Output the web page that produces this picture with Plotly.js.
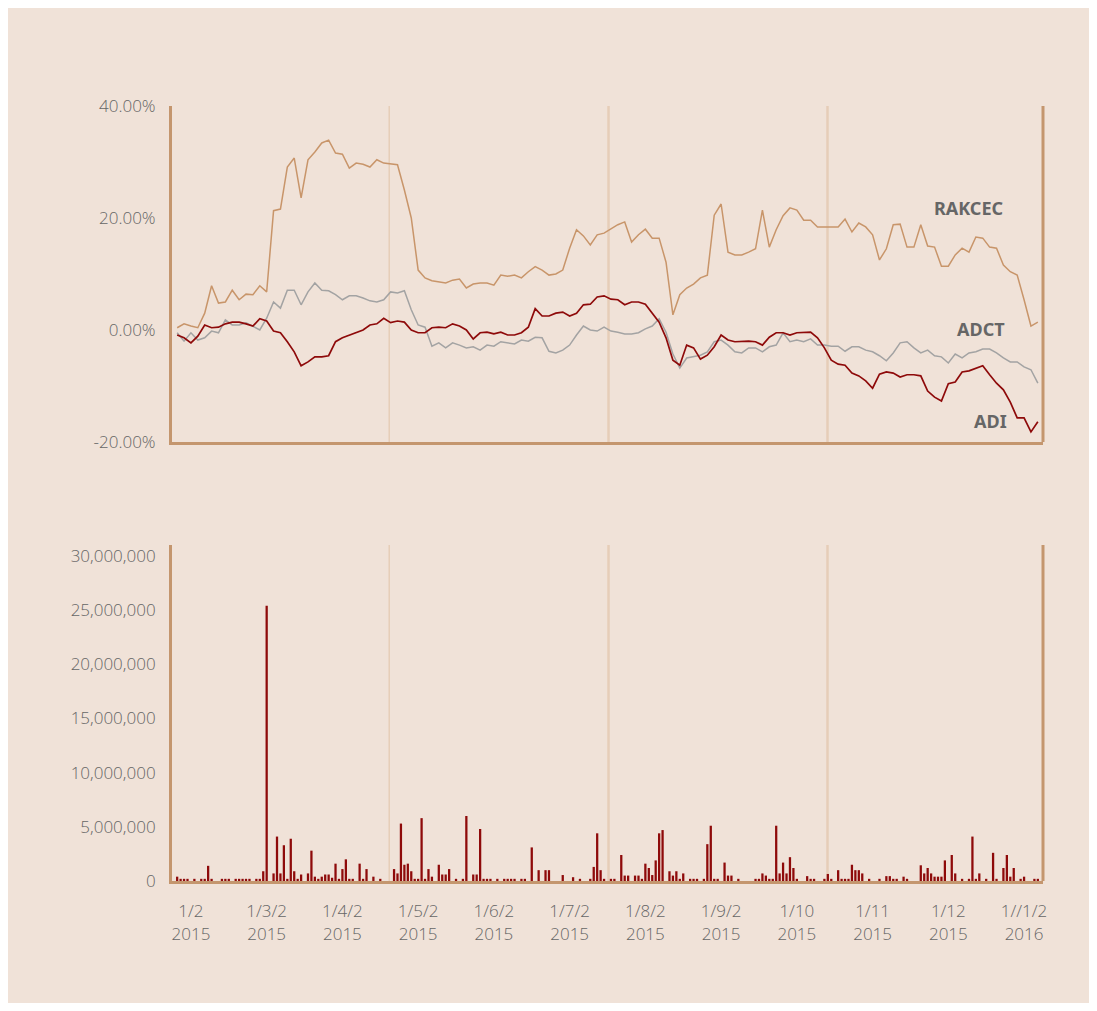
<!DOCTYPE html>
<html>
<head>
<meta charset="utf-8">
<script src="https://cdn.plot.ly/plotly-3.0.1.min.js"></script>
<style>
  html, body { margin: 0; padding: 0; background: #ffffff; }
  #chart { position: absolute; left: 8px; top: 8px; width: 1081px; height: 995px; }
</style>
</head>
<body>
<div id="chart"></div>
<script>
// ---- Data ----
// trading-day index (category position) of each line sample
const lineDays = [1,3,5,7,9,11,13,15,17,19,21,23,25,27,29,31,33,35,37,39,41,43,45,47,49,51,53,55,57,59,
  61,63,65,67,69,71,73,75,77,79,81,83,85,87,89,91,93,95,97,99,101,103,105,107,109,111,113,115,117,119,
  121,123,125,127,129,131,133,135,137,139,141,143,145,147,149,151,153,155,157,159,161,163,165,167,169,171,173,175,177,179,
  181,183,185,187,189,191,193,195,197,199,201,203,205,207,209,211,213,215,217,219,221,223,225,227,229,231,233,235,237,239,
  241,243,245,247,249,251];

// cumulative return, %
const rakcec = [0.4, 1.1, 0.7, 0.4, 3.0, 7.9, 4.8, 5.0, 7.1, 5.4,
  6.4, 6.3, 7.9, 6.8, 21.3, 21.6, 29.1, 30.7, 23.6, 30.4,
  31.8, 33.4, 33.9, 31.6, 31.4, 28.9, 29.8, 29.6, 29.1, 30.4,
  29.8, 29.6, 29.5, 25.0, 20.0, 10.7, 9.3, 8.8, 8.6, 8.4,
  8.9, 9.1, 7.5, 8.2, 8.4, 8.4, 8.0, 9.8, 9.6, 9.8,
  9.3, 10.4, 11.3, 10.7, 9.8, 10.0, 10.7, 14.6, 17.9, 16.8,
  15.2, 17.0, 17.3, 18.0, 18.8, 19.3, 15.7, 17.0, 18.0, 16.4,
  16.4, 12.1, 2.7, 6.3, 7.5, 8.2, 9.3, 9.8, 20.5, 22.5,
  13.9, 13.4, 13.4, 13.9, 14.5, 21.4, 14.8, 17.9, 20.4, 21.8,
  21.4, 19.6, 19.6, 18.4, 18.4, 18.4, 18.4, 19.8, 17.5, 19.1,
  18.4, 17.0, 12.5, 14.5, 18.8, 18.9, 14.8, 14.8, 18.8, 15.0,
  14.8, 11.4, 11.4, 13.4, 14.6, 13.9, 16.6, 16.4, 14.8, 14.6,
  11.6, 10.4, 9.8, 5.4, 0.7, 1.4];

const adct = [-0.5, -2.0, -0.5, -1.8, -1.4, -0.2, -0.5, 1.8, 0.9, 0.9,
  1.3, 0.7, 0.0, 2.1, 5.0, 3.9, 7.1, 7.1, 4.5, 6.8,
  8.4, 7.1, 7.0, 6.3, 5.4, 6.1, 6.1, 5.7, 5.2, 5.0,
  5.4, 6.8, 6.6, 7.0, 3.6, 0.9, 0.5, -2.9, -2.3, -3.2,
  -2.3, -2.7, -3.2, -3.0, -3.6, -2.7, -2.9, -2.1, -2.3, -2.5,
  -1.8, -2.0, -1.3, -1.4, -3.8, -4.1, -3.6, -2.7, -0.9, 0.7,
  0.0, -0.2, 0.5, -0.2, -0.4, -0.7, -0.7, -0.5, 0.2, 0.7,
  2.0, -0.4, -4.3, -6.8, -5.0, -4.8, -4.5, -3.9, -2.1, -1.8,
  -2.7, -3.9, -4.1, -3.2, -3.2, -3.9, -3.0, -2.7, -0.5, -2.1,
  -1.8, -2.1, -1.6, -2.7, -2.7, -2.9, -2.9, -3.8, -3.0, -3.0,
  -3.6, -3.9, -4.6, -5.5, -4.1, -2.3, -2.1, -3.2, -4.1, -3.6,
  -4.6, -4.8, -5.9, -4.3, -5.0, -4.1, -3.9, -3.4, -3.4, -4.1,
  -5.0, -5.7, -5.7, -6.6, -7.1, -9.5];

const adi = [-0.9, -1.4, -2.3, -1.1, 0.9, 0.4, 0.5, 1.1, 1.4, 1.4,
  1.1, 0.7, 2.0, 1.6, -0.2, -0.5, -2.1, -3.9, -6.4, -5.7,
  -4.8, -4.8, -4.6, -2.1, -1.4, -0.9, -0.5, 0.0, 0.9, 1.1,
  2.1, 1.3, 1.6, 1.4, 0.0, -0.5, -0.5, 0.4, 0.5, 0.4,
  1.1, 0.7, 0.0, -1.6, -0.5, -0.4, -0.7, -0.4, -0.9, -0.9,
  -0.5, 0.5, 3.8, 2.5, 2.5, 3.0, 3.2, 2.5, 3.0, 4.5,
  4.6, 5.9, 6.1, 5.5, 5.4, 4.5, 5.0, 5.0, 4.6, 2.9,
  1.4, -1.4, -5.4, -6.3, -2.7, -3.2, -5.2, -4.5, -3.0, -0.9,
  -1.8, -2.1, -2.0, -2.0, -2.1, -2.7, -1.3, -0.5, -0.5, -0.9,
  -0.5, -0.5, -0.4, -1.4, -3.2, -5.4, -6.1, -6.3, -7.7, -8.2,
  -9.1, -10.4, -7.9, -7.5, -7.7, -8.4, -8.0, -8.0, -8.2, -10.9,
  -12.0, -12.7, -9.6, -9.3, -7.5, -7.3, -6.8, -6.4, -8.0, -9.5,
  -10.7, -12.9, -15.7, -15.7, -18.2, -16.4];

// traded volume (millions of shares) on the days where a bar is visible
const volDays = [1,2,3,4,6,8,9,10,11,14,
  15,16,18,19,20,21,22,24,25,26,
  27,29,30,31,32,33,34,35,36,37,
  39,40,41,42,43,44,45,46,47,48,
  49,50,51,52,54,55,56,58,60,64,
  65,66,67,68,69,70,71,72,73,74,
  75,77,78,79,80,82,84,85,87,88,
  89,90,91,92,94,96,97,98,99,101,
  102,104,106,108,109,113,116,118,121,122,
  123,124,125,127,128,130,131,132,134,135,
  136,137,138,139,140,141,142,144,145,146,
  147,148,150,151,152,154,155,156,157,158,
  160,161,162,164,169,170,171,172,173,174,
  175,176,177,178,179,180,181,184,185,186,
  189,190,191,193,194,195,196,197,198,199,
  200,202,205,207,208,209,210,212,213,217,
  218,219,220,221,222,223,224,226,227,229,
  231,232,233,234,236,238,239,241,242,243,
  244,246,247,250,251];
const volMillions = [0.4,0.2,0.2,0.2,0.2,0.2,0.2,1.4,0.2,0.2,
  0.2,0.2,0.2,0.2,0.2,0.2,0.2,0.2,0.2,0.9,
  25.4,0.7,4.1,0.7,3.3,0.2,3.9,0.9,0.2,0.6,
  0.7,2.8,0.4,0.2,0.4,0.6,0.6,0.3,1.6,0.2,
  1.1,2.0,0.2,0.2,1.6,0.2,1.1,0.4,0.2,1.1,
  0.7,5.3,1.5,1.6,0.9,0.2,0.2,5.8,0.2,1.1,
  0.4,1.5,0.6,0.6,1.1,0.2,0.2,6.0,0.6,0.6,
  4.8,0.2,0.2,0.2,0.2,0.2,0.2,0.2,0.2,0.2,
  0.2,3.1,1.0,1.0,1.0,0.55,0.35,0.2,0.2,1.3,
  4.4,1.0,0.2,0.2,0.2,2.4,0.5,0.5,0.5,0.5,
  0.2,1.6,1.2,0.55,1.9,4.4,4.7,0.9,0.5,0.9,
  0.2,0.7,0.2,0.2,0.2,0.2,3.4,5.1,0.2,0.2,
  1.7,0.5,0.5,0.2,0.2,0.2,0.7,0.5,0.2,0.2,
  5.1,0.7,1.7,0.7,2.2,1.2,0.2,0.45,0.2,0.2,
  0.2,0.65,0.2,1.0,0.2,0.2,0.2,1.5,1.0,1.0,
  0.7,0.2,0.2,0.45,0.45,0.2,0.2,0.4,0.2,1.45,
  0.7,1.2,0.7,0.4,0.4,0.4,1.9,2.4,0.7,0.2,
  0.2,4.1,0.2,0.7,0.2,2.6,0.2,1.2,2.4,0.4,
  1.2,0.2,0.4,0.2,0.2];

// axis ticks
const xTickDays = [5,27,49,71,93,115,137,159,181,203,225,247];
const xTickText = ['1/2<br>2015','1/3/2<br>2015','1/4/2<br>2015','1/5/2<br>2015','1/6/2<br>2015','1/7/2<br>2015',
  '1/8/2<br>2015','1/9/2<br>2015','1/10<br>2015','1/11<br>2015','1/12<br>2015','1//1/2<br>2016'];
const quarterDays = [62.6, 126.3, 189.9];
const pctTicks = [-20, 0, 20, 40];
const pctTickText = ['-20.00%', '0.00%', '20.00%', '40.00%'];
const volTicks = [0, 5e6, 10e6, 15e6, 20e6, 25e6, 30e6];
const volTickText = ['0', '5,000,000', '10,000,000', '15,000,000', '20,000,000', '25,000,000', '30,000,000'];

// series labels (name, day, value)
const seriesNames = ['RAKCEC', 'ADCT', 'ADI'];
const labelDays = [231, 234.5, 237.2];
const labelValues = [21.8, 0.2, -16.2];

// ---- Styling ----
const BG = '#F0E2D8';
const AXIS = '#C4966E';
const GRID = '#E6CDB8';
const TICK = '#666666';
const FONT = 'Open Sans, Noto Sans, DejaVu Sans, sans-serif';
const tickFont = { family: FONT, size: 17, color: TICK, weight: 300 };
const colors = { RAKCEC: '#C8956A', ADCT: '#A3A3A3', ADI: '#8E0A0A' };

const traces = [
  { x: lineDays, y: rakcec, type: 'scatter', mode: 'lines', name: 'RAKCEC',
    line: { color: colors.RAKCEC, width: 1.5 }, xaxis: 'x', yaxis: 'y', cliponaxis: false },
  { x: lineDays, y: adct, type: 'scatter', mode: 'lines', name: 'ADCT',
    line: { color: colors.ADCT, width: 1.5 }, xaxis: 'x', yaxis: 'y', cliponaxis: false },
  { x: lineDays, y: adi, type: 'scatter', mode: 'lines', name: 'ADI',
    line: { color: colors.ADI, width: 1.7 }, xaxis: 'x', yaxis: 'y', cliponaxis: false },
  { x: volDays, y: volMillions.map(v => v * 1e6), type: 'bar', name: 'Volume',
    marker: { color: '#8E0A0A', line: { width: 0 } }, width: 0.66, xaxis: 'x2', yaxis: 'y2' }
];

const shapes = [];
quarterDays.forEach((d, i) => {
  const w = i === 0 ? 1.5 : 2.5;
  shapes.push({ type: 'line', xref: 'x', yref: 'y domain', x0: d, x1: d, y0: 0, y1: 1,
    line: { color: GRID, width: w }, layer: 'below' });
  shapes.push({ type: 'line', xref: 'x2', yref: 'y2 domain', x0: d, x1: d, y0: 0, y1: 1,
    line: { color: GRID, width: w }, layer: 'below' });
});
// right-hand frame lines
shapes.push({ type: 'line', xref: 'x domain', yref: 'y domain', x0: 1, x1: 1, y0: 0, y1: 1,
  line: { color: AXIS, width: 3 } });
shapes.push({ type: 'line', xref: 'x2 domain', yref: 'y2 domain', x0: 1, x1: 1, y0: 0, y1: 1,
  line: { color: AXIS, width: 3 } });

const annotations = seriesNames.map((n, i) => ({
  x: labelDays[i], y: labelValues[i], xref: 'x', yref: 'y', text: '<b>' + n + '</b>',
  showarrow: false, font: { family: 'Noto Sans, DejaVu Sans, sans-serif', size: 18, color: '#666666' }
}));

const xCommon = {
  range: [-0.5, 252.5], showgrid: false, zeroline: false,
  showline: true, linecolor: AXIS, linewidth: 3, fixedrange: true
};

const layout = {
  width: 1081, height: 995,
  paper_bgcolor: BG, plot_bgcolor: BG,
  margin: { l: 164, r: 46, t: 98, b: 122 },
  showlegend: false,
  font: { family: FONT, color: TICK, size: 16 },
  xaxis: Object.assign({}, xCommon, { anchor: 'y', showticklabels: false, ticks: '' }),
  yaxis: {
    domain: [0.5665, 1], range: [-20, 40], anchor: 'x',
    tickmode: 'array', tickvals: pctTicks, ticktext: pctTickText,
    showgrid: false, zeroline: false, showline: true, linecolor: AXIS, linewidth: 3,
    ticks: 'outside', ticklen: 10, tickcolor: 'rgba(0,0,0,0)',
    tickfont: tickFont
  },
  xaxis2: Object.assign({}, xCommon, {
    anchor: 'y2', tickmode: 'array', tickvals: xTickDays, ticktext: xTickText,
    ticks: 'outside', ticklen: 13, tickcolor: 'rgba(0,0,0,0)',
    tickfont: tickFont
  }),
  yaxis2: {
    domain: [0, 0.4335], range: [0, 31e6], anchor: 'x2',
    tickmode: 'array', tickvals: volTicks, ticktext: volTickText,
    showgrid: false, zeroline: false, showline: true, linecolor: AXIS, linewidth: 3,
    ticks: 'outside', ticklen: 10, tickcolor: 'rgba(0,0,0,0)',
    tickfont: tickFont
  },
  shapes: shapes,
  annotations: annotations
};

Plotly.newPlot('chart', traces, layout, { displayModeBar: false, staticPlot: true });
</script>
</body>
</html>
